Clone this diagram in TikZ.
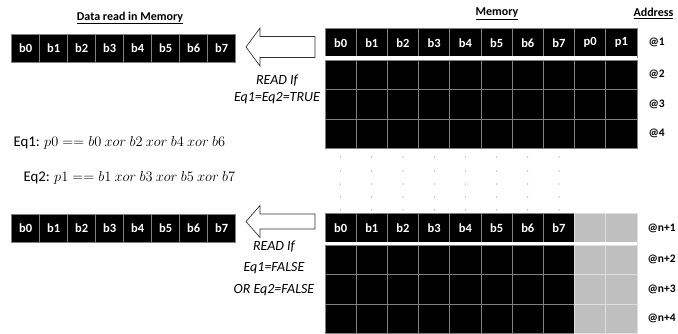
\documentclass[tikz,border=0pt]{standalone}
\usepackage{fontspec}
\setmainfont{Carlito}
\usetikzlibrary{calc,positioning}

\tikzset{
	bitcell/.style={draw=gray, line width=0.9pt, fill=black, text=white,
		font=\bfseries\fontsize{12.5}{12.5}\selectfont, inner sep=0pt},
	sparecell/.style={bitcell, fill=gray!50, draw=gray!25},
	heading/.style={font=\bfseries\fontsize{12}{12}\selectfont},
	addr/.style={anchor=west, font=\bfseries\fontsize{11.5}{11.5}\selectfont},
	cond/.style={align=center, font=\itshape\fontsize{14}{17}\selectfont},
	eqn/.style={anchor=west, font=\fontsize{14.8}{14.8}\selectfont},
	rdarrow/.style={draw=black!80, line width=0.7pt, fill=white},
}

\begin{document}
\begin{tikzpicture}[x=1pt,y=-1pt]
		\useasboundingbox (0,0) rectangle (678,333);
		% headings
		\node[heading] (hdata) at (130,18) {\underline{Data read in Memory}};
		\node[heading] (hmem) at (497,13.5) {\underline{Memory}};
		\node[heading, anchor=east] (haddr) at (677,13.5) {\underline{Address}};
		% data read out
		\foreach \i in {0,...,7}{
			\node[bitcell, minimum width=28pt, minimum height=28pt]
				(d1-\i) at ({25.7+28*\i},48) {b\i};
			\node[bitcell, minimum width=28pt, minimum height=28pt]
				(d2-\i) at ({25.7+28*\i},228) {b\i};
		}
		% memory, first block
		\foreach \r/\y in {1/42.75,2/74.75,3/104.25,4/133.75}{
			\foreach \c in {1,...,10}{
				\node[bitcell, minimum width=31.2pt, minimum height=29.5pt]
					(m\r-\c) at ({325+31.2*(\c-0.5)},\y) {};
			}
			\node[addr] (a\r) at (645,\y) {@\r};
		}
		\foreach \c in {1,...,8}{
			\pgfmathtruncatemacro{\b}{\c-1}
			\node[text=white, font=\bfseries\fontsize{12.5}{12.5}\selectfont] at (m1-\c) {b\b};
		}
		\node[text=white, font=\bfseries\fontsize{12.5}{12.5}\selectfont] at (m1-9) {p0};
		\node[text=white, font=\bfseries\fontsize{12.5}{12.5}\selectfont] at (m1-10) {p1};
		\draw[white, line width=2.6pt]
			($(m1-1.south west)+(0.5,-0.9)$) -- ($(m1-10.south east)+(-0.5,-0.9)$);
		% dots between the blocks
		\foreach \c in {1,...,8}
			\foreach \y in {157,171,184,197,210}
				\fill[gray] ({325+31.2*(\c-0.5)},\y) circle (0.6pt);
		% memory, second block
		\foreach \r/\y in {1/228.5,2/259.75,3/289.25,4/318.75}{
			\foreach \c in {1,...,8}{
				\node[bitcell, minimum width=31.2pt, minimum height=29.5pt]
					(n\r-\c) at ({325+31.2*(\c-0.5)},\y) {};
			}
			\foreach \c in {9,10}{
				\node[sparecell, minimum width=31.2pt, minimum height=29.5pt]
					(n\r-\c) at ({325+31.2*(\c-0.5)},\y) {};
			}
			\node[addr] (an\r) at (644,\y) {@n+\r};
		}
		\foreach \c in {1,...,8}{
			\pgfmathtruncatemacro{\b}{\c-1}
			\node[text=white, font=\bfseries\fontsize{12.5}{12.5}\selectfont] at (n1-\c) {b\b};
		}
		\draw[white, line width=2.6pt]
			($(n1-1.south west)+(0.5,-0.9)$) -- ($(n1-10.south east)+(-0.5,-0.9)$);
		% read arrows
		\coordinate (tip1) at (246,47);
		\draw[rdarrow] (tip1) -- ++(14,-19) -- ++(0,8.5) -- ++(55,0) -- ++(0,21)
			-- ++(-55,0) -- ++(0,8.5) -- cycle;
		\coordinate (tip2) at (246,221.5);
		\draw[rdarrow] (tip2) -- ++(14,-16) -- ++(0,8.5) -- ++(55,0) -- ++(0,15)
			-- ++(-55,0) -- ++(0,8.5) -- cycle;
		% conditions
		\node[cond] (c1) at (277,89) {READ If\\Eq1=Eq2=TRUE};
		\node[cond, font=\itshape\fontsize{14}{21.5}\selectfont] (c2) at (274,268)
			{READ If\\Eq1=FALSE\\OR Eq2=FALSE};
		% parity equations
		\node[eqn] (eq1) at (10,143) {Eq1: $p0 == b0\ xor\ b2\ xor\ b4\ xor\ b6$};
		\node[eqn] (eq2) at (20,178) {Eq2: $p1 == b1\ xor\ b3\ xor\ b5\ xor\ b7$};
\end{tikzpicture}
\end{document}
